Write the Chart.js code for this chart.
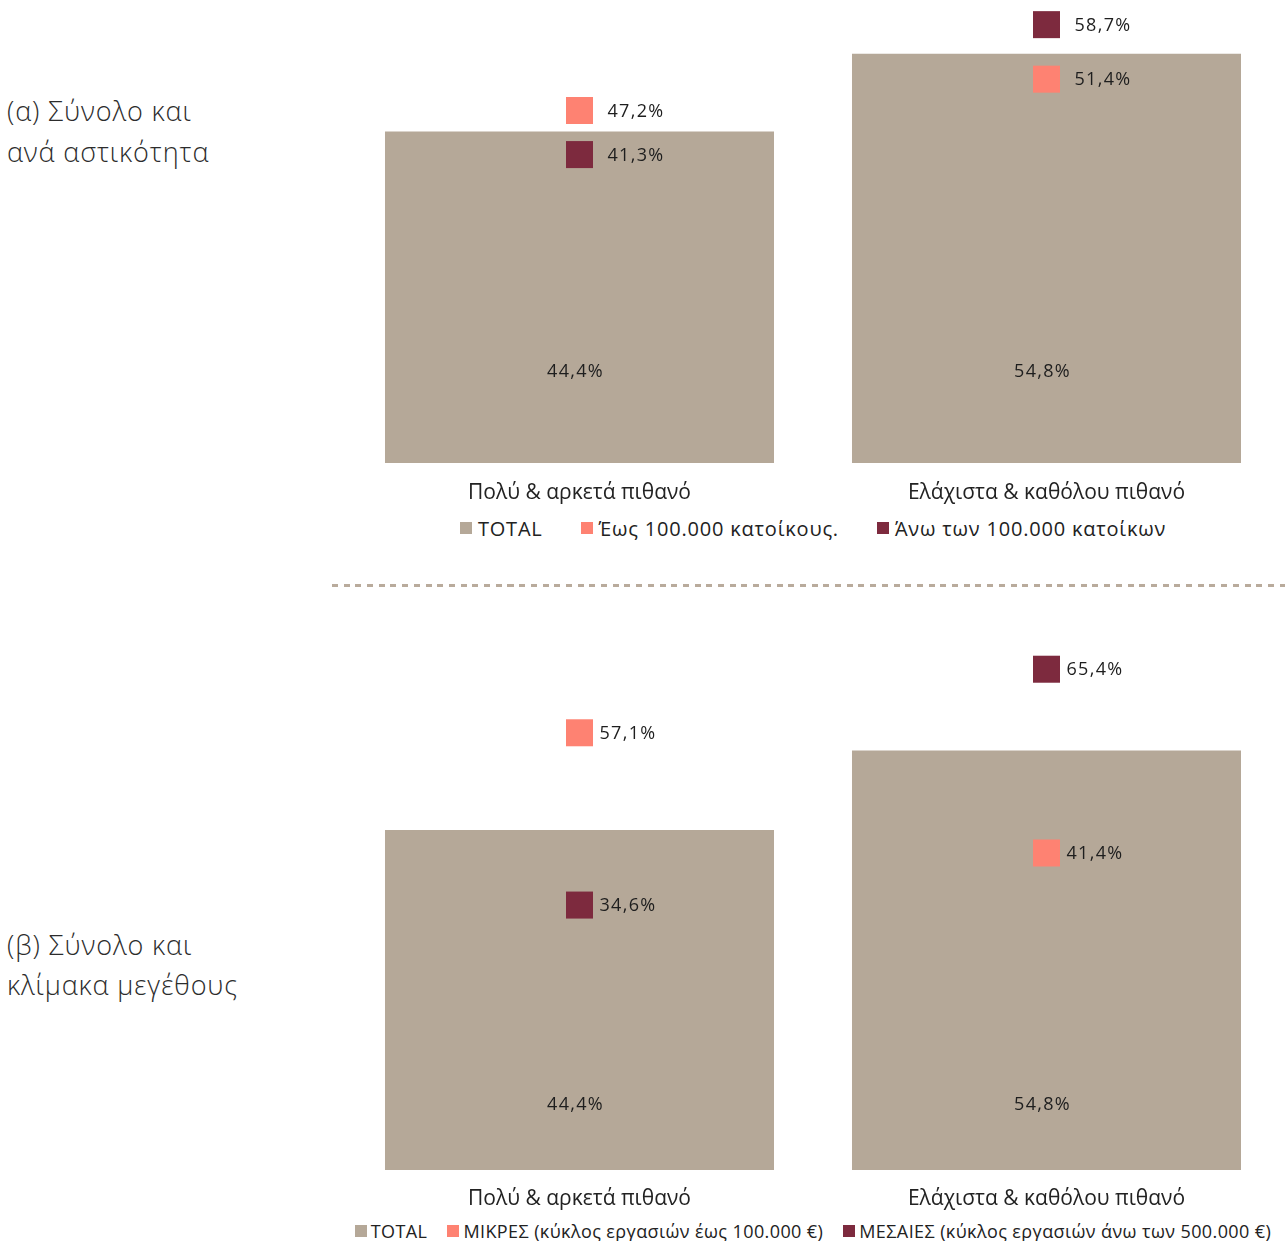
<!DOCTYPE html>
<html><head><meta charset="utf-8">
<script src="https://cdn.jsdelivr.net/npm/chart.js@4"></script>
<style>
body{margin:0;width:1285px;height:1241px;position:relative;background:#fff;font-family:"Open Sans",sans-serif;overflow:hidden}
canvas{position:absolute;left:0}
.title{position:absolute;left:7px;font-size:27px;letter-spacing:0.9px;line-height:41px;color:#2c2c2c;font-weight:300}
.legend{position:absolute;display:flex;justify-content:center;align-items:center;color:#222;white-space:nowrap}
.legend .item{display:flex;align-items:center}
.legend .box{display:inline-block;width:12px;height:12px}
#legA{left:346px;width:934px;top:514px;height:28px;font-size:20px;letter-spacing:0.8px}
#legA .item{margin:0 19px}
#legA .box{margin-right:6px}
#legB{left:346px;width:934px;top:1219px;height:24px;font-size:18px;letter-spacing:0.4px}
#legB .item{margin:0 10px}
#legB .box{margin-right:4px}
#dash{position:absolute;left:332px;top:584px;width:953px;height:3px;background:repeating-linear-gradient(to right,#b9ab9c 0 6px,transparent 6px 11.7px)}
</style>
</head><body>
<div class="title" style="top:90px">(α) Σύνολο και<br>ανά αστικότητα</div>
<div class="title" style="top:925px;line-height:40px">(β) Σύνολο και<br>κλίμακα μεγέθους</div>
<canvas id="chartA" width="1285" height="505" style="top:0"></canvas>
<div id="legA" class="legend"></div>
<div id="dash"></div>
<canvas id="chartB" width="1285" height="578" style="top:634px"></canvas>
<div id="legB" class="legend"></div>
<script>
const categories = ["Πολύ & αρκετά πιθανό", "Ελάχιστα & καθόλου πιθανό"];
const totalA = [44.4, 54.8];
const upTo100kA = [47.2, 51.4];
const over100kA = [41.3, 58.7];
const totalB = [44.4, 54.8];
const smallB = [57.1, 41.4];
const mediumB = [34.6, 65.4];
const namesA = ["TOTAL", "Έως 100.000 κατοίκους.", "Άνω των 100.000 κατοίκων"];
const namesB = ["TOTAL", "ΜΙΚΡΕΣ (κύκλος εργασιών έως 100.000 €)", "ΜΕΣΑΙΕΣ (κύκλος εργασιών άνω των 500.000 €)"];

const TAN = "#b5a898", CORAL = "#fe8272", MAROON = "#7d2a3e";
const FONT = '"Open Sans", sans-serif';
const fmt = v => v.toFixed(1).replace('.', ',') + '%';

const labelPlugin = {
  id: 'valueLabels',
  afterDatasetsDraw(chart, args, opts) {
    const ctx = chart.ctx;
    ctx.save();
    ctx.fillStyle = '#1e1e1e';
    ctx.font = '18px ' + FONT;
    ctx.letterSpacing = '1.3px';
    ctx.textBaseline = 'middle';
    chart.data.datasets.forEach((ds, i) => {
      const meta = chart.getDatasetMeta(i);
      meta.data.forEach((el, j) => {
        const v = ds.data[j];
        if (meta.type === 'bar') {
          ctx.textAlign = 'center';
          ctx.fillText(fmt(v), el.x - 4, el.base - opts.barOffset);
        } else {
          ctx.textAlign = 'left';
          ctx.fillText(fmt(v), el.x + opts.pointOffset, el.y + 1);
        }
      });
    });
    ctx.restore();
  }
};

function makeChart(id, total, s1, s2, names, cfg) {
  return new Chart(document.getElementById(id), {
    data: {
      labels: categories,
      datasets: [
        {type: 'bar', label: names[0], data: total, backgroundColor: TAN, categoryPercentage: 1, barPercentage: 0.833, order: 2},
        {type: 'line', label: names[1], data: s1, showLine: false, clip: false, pointStyle: 'rect', pointRadius: 19.1, pointHoverRadius: 19.1, pointBackgroundColor: CORAL, pointBorderWidth: 0, order: 1},
        {type: 'line', label: names[2], data: s2, showLine: false, clip: false, pointStyle: 'rect', pointRadius: 19.1, pointHoverRadius: 19.1, pointBackgroundColor: MAROON, pointBorderWidth: 0, order: 1}
      ]
    },
    options: {
      responsive: false, animation: false, events: [],
      layout: {autoPadding: false, padding: {left: 346, right: 5, top: 0, bottom: 0}},
      plugins: {legend: {display: false}, tooltip: {enabled: false},
        valueLabels: {barOffset: cfg.barOffset, pointOffset: cfg.pointOffset}},
      scales: {
        x: {grid: {display: false, drawTicks: false}, border: {display: false},
            ticks: {padding: cfg.tickPad, font: {family: FONT, size: 21}, color: '#222'},
            afterFit: s => { s.height = 42; }},
        y: {display: false, min: 0, max: cfg.ymax}
      }
    },
    plugins: [labelPlugin]
  });
}

function makeLegend(id, names) {
  const el = document.getElementById(id);
  [TAN, CORAL, MAROON].forEach((c, i) => {
    const it = document.createElement('div');
    it.className = 'item';
    it.innerHTML = '<span class="box" style="background:' + c + '"></span><span>' + names[i] + '</span>';
    el.appendChild(it);
  });
}

makeChart('chartA', totalA, upTo100kA, over100kA, namesA, {ymax: 62, tickPad: 17, barOffset: 91, pointOffset: 28});
makeChart('chartB', totalB, smallB, mediumB, namesB, {ymax: 70, tickPad: 16, barOffset: 65, pointOffset: 20});
makeLegend('legA', namesA);
makeLegend('legB', namesB);
</script>
</body></html>
